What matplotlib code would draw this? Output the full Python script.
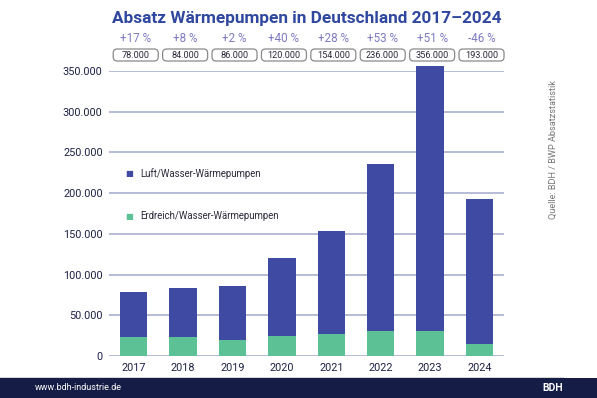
import matplotlib.pyplot as plt
from matplotlib.patches import FancyBboxPatch, Rectangle
from matplotlib.ticker import FuncFormatter
from matplotlib.transforms import IdentityTransform, blended_transform_factory

plt.rcParams['font.family'] = ['Roboto', 'DejaVu Sans']

# Daten
jahre = ["2017", "2018", "2019", "2020", "2021", "2022", "2023", "2024"]
gesamt = [78000, 84000, 86000, 120000, 154000, 236000, 356000, 193000]
erdreich = [23000, 23000, 20000, 24500, 27000, 31000, 31000, 15000]
luft = [g - e for g, e in zip(gesamt, erdreich)]
veraenderung = ["+17 %", "+8 %", "+2 %", "+40 %", "+28 %", "+53 %", "+51 %", "-46 %"]

BLAU = "#3f4ba3"
GRUEN = "#5cc194"
NAVY = "#1d2144"

W, H = 597, 398
fig = plt.figure(figsize=(W / 100, H / 100), dpi=100)
ax = fig.add_axes([109.3 / W, 1 - 356 / H, (504 - 109.3) / W, (356 - 71) / H])

x = list(range(len(jahre)))
ax.bar(x, erdreich, width=0.555, color=GRUEN, zorder=2, clip_on=False)
ax.bar(x, luft, bottom=erdreich, width=0.555, color=BLAU, zorder=2, clip_on=False)

ax.set_xlim(-0.495, 7.495)
ax.set_ylim(0, 350000)
ax.set_yticks(range(0, 350001, 50000))
ax.yaxis.set_major_formatter(FuncFormatter(lambda v, p: f"{int(v):,}".replace(",", ".")))
ax.set_xticks(x)
ax.set_xticklabels(jahre)
ax.tick_params(length=0, labelsize=7.8, labelcolor=NAVY)
ax.tick_params(axis="y", pad=4.8)
ax.tick_params(axis="x", pad=5)
ax.grid(axis="y", color="#a9afd0", linewidth=1.2, zorder=0)
ax.set_axisbelow(True)
for s in ax.spines.values():
    s.set_visible(False)

# Legende als Text im Diagramm
ax.text(0.05, 0.639, "■", transform=ax.transAxes, color=BLAU, fontsize=6,
        va="center", ha="center", family="DejaVu Sans")
ax.text(0.078, 0.639, "Luft/Wasser-Wärmepumpen", transform=ax.transAxes,
        color="#2a2a3a", fontsize=6.9, va="center")
ax.text(0.05, 0.491, "■", transform=ax.transAxes, color=GRUEN, fontsize=6,
        va="center", ha="center", family="DejaVu Sans")
ax.text(0.078, 0.491, "Erdreich/Wasser-Wärmepumpen", transform=ax.transAxes,
        color="#2a2a3a", fontsize=6.9, va="center")

# Titel
fig.text((109.3 + 504) / 2 / W, 1 - 19 / H, "Absatz Wärmepumpen in Deutschland 2017–2024",
         ha="center", va="center", fontsize=12.4, fontweight="bold", color="#2f479e")

# Prozente und Summen-Boxen
trans = blended_transform_factory(ax.transData, fig.transFigure)
fig.canvas.draw()
for i in x:
    ax.text(i + 0.04, 1 - 38.3 / H, veraenderung[i], transform=trans, ha="center",
            va="center", fontsize=8.4, color="#7d79c2", clip_on=False)
    px = ax.transData.transform((i + 0.04, 0))[0]
    py = H - 55
    box = FancyBboxPatch((px - 22.5 + 4, py - 6 + 4), 45 - 8, 12 - 8,
                         boxstyle="round,pad=4,rounding_size=4", transform=IdentityTransform(),
                         facecolor="white", edgecolor="#8a8a8a", linewidth=0.9)
    fig.patches.append(box)
    fig.text(px / W, py / H, f"{gesamt[i]:,}".replace(",", "."), ha="center", va="center",
             fontsize=6.6, color="#2a2a3a")

# Quelle
fig.text(553 / W, 1 - 150 / H, "Quelle: BDH / BWP Absatzstatistik", rotation=90,
         ha="center", va="center", fontsize=6.6, color="#777777")

# Fußzeile
fig.patches.append(Rectangle((0, 0), 1, 20 / H, transform=fig.transFigure,
                             facecolor="#151c45", edgecolor="none"))
fig.patches.append(Rectangle((0, 20 / H), 0.945, 1.5 / H, transform=fig.transFigure,
                             facecolor="#d6d6d6", edgecolor="none"))
fig.text(35 / W, 10 / H, "www.bdh-industrie.de", ha="left", va="center",
         fontsize=6.5, color="white")
fig.text(553 / W, 10 / H, "BDH", ha="center", va="center",
         fontsize=7.5, fontweight="bold", color="white")

fig.savefig("out.png", dpi=100)
